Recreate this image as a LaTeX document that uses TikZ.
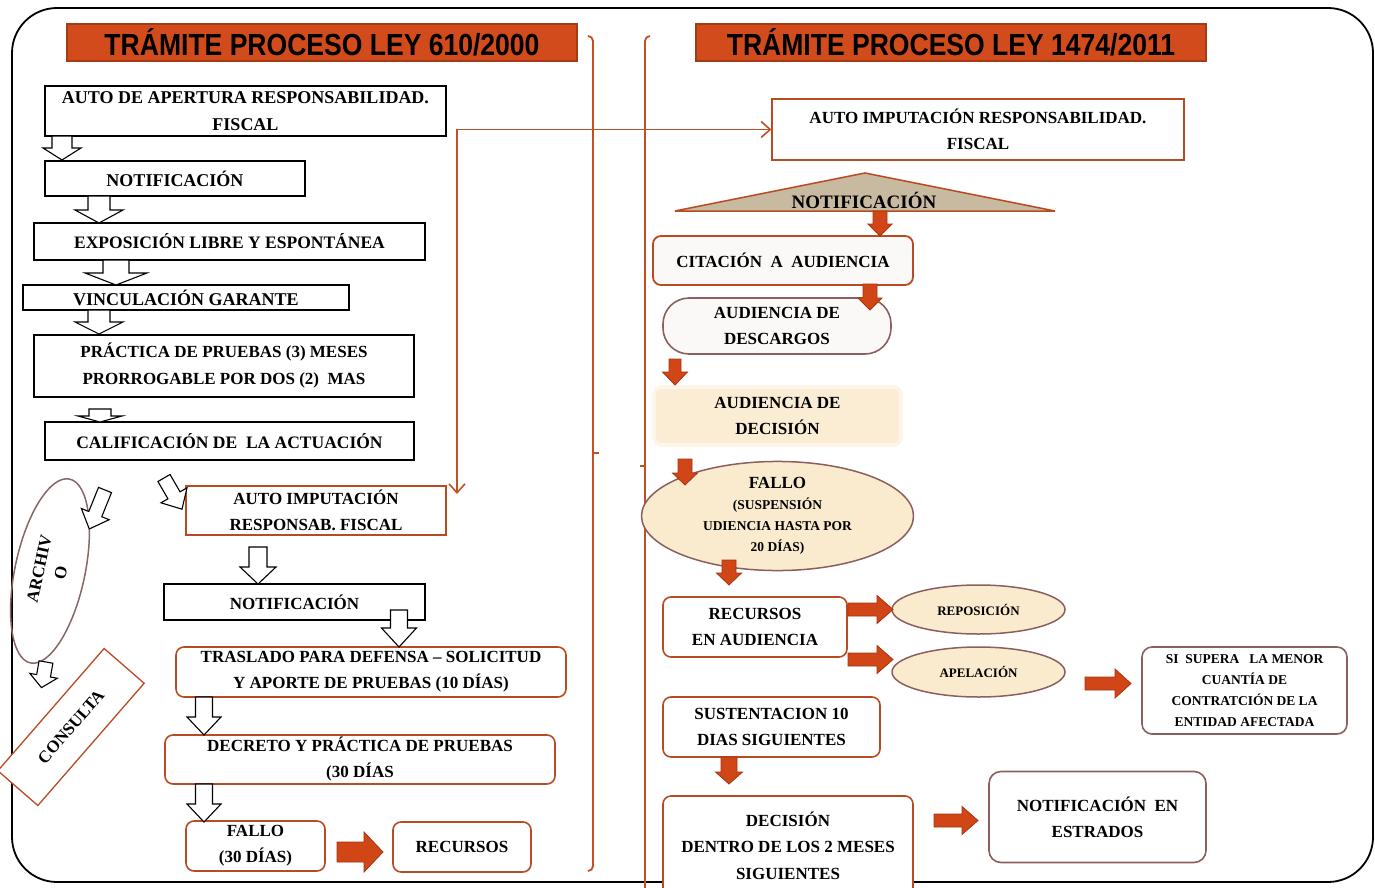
\documentclass[tikz,border=0pt]{standalone}
\usepackage{fontspec}
\setmainfont{Liberation Serif}
\newfontfamily\titlefont[FakeStretch=0.87]{Liberation Sans}
\usetikzlibrary{arrows.meta,shapes.geometric}
\definecolor{ttl}{RGB}{210,75,28}
\definecolor{ttlb}{RGB}{165,58,20}
\definecolor{orng}{RGB}{208,70,22}
\definecolor{odark}{RGB}{165,52,14}
\definecolor{brn}{RGB}{185,75,35}
\definecolor{brc}{RGB}{195,80,35}
\definecolor{mauve}{RGB}{140,95,95}
\definecolor{cream}{RGB}{250,234,206}
\definecolor{cream2}{RGB}{251,236,212}
\definecolor{cream3}{RGB}{253,245,234}
\definecolor{tan}{RGB}{200,186,160}
\definecolor{offw}{RGB}{251,249,247}
\newcommand{\barr}[8]{\draw[#1,shift={(#2,#3)},rotate=#4] (0,-#6/2) -- (#5-#8,-#6/2) -- (#5-#8,-#7/2) -- (#5,0) -- (#5-#8,#7/2) -- (#5-#8,#6/2) -- (0,#6/2) -- cycle;}
\tikzset{
 lbox/.style={draw=black, line width=1.3pt, fill=white, inner sep=0pt, align=center, font=\bfseries\fontsize{18}{27}\selectfont},
 lboxs/.style={lbox, font=\bfseries\fontsize{17}{26}\selectfont},
 bbox/.style={draw=brn, line width=1.3pt, fill=white, inner sep=0pt, align=center, font=\bfseries\fontsize{17}{26}\selectfont},
 rbox/.style={bbox, rounded corners=8pt, line width=1.6pt},
 mbox/.style={rbox, draw=mauve},
 hollow/.style={draw=black, line width=1.1pt, fill=white, line join=miter},
 obarr/.style={draw=odark, line width=0.8pt, fill=orng, line join=miter},
 ttlbox/.style={draw=ttlb, line width=1.2pt, fill=ttl, inner sep=0pt, minimum width=510pt, minimum height=37pt, font=\titlefont\bfseries\fontsize{30.5}{34}\selectfont},
 brace/.style={draw=brc, line width=1.8pt},
 conn/.style={draw=brc, line width=1.6pt},
 ell/.style={ellipse, draw=mauve, line width=1.5pt, fill=cream, inner sep=0pt, align=center},
}
\begin{document}
\begin{tikzpicture}[x=1pt,y=-1pt]
\useasboundingbox (0,0) rectangle (1375,888);
% frame
\draw[line width=1.8pt, rounded corners=45pt] (12,8) rectangle (1373,882);
% titles
\node[ttlbox] (t1) at (322,42.5) {TRÁMITE PROCESO LEY 610/2000};
\node[ttlbox] (t2) at (951,42.5) {TRÁMITE PROCESO LEY 1474/2011};
% braces
\draw[brace] (588,36) to[out=0,in=90] (593,41) -- (593,866) to[out=-90,in=0] (588,871);
\draw[brace] (593,453) -- (599,453);
\draw[brace] (650,36) to[out=180,in=90] (645,41) -- (645,890);
\draw[brace] (645,466) -- (640,466);
% left column
\node[lbox, minimum width=401pt, minimum height=50pt] (l1) at (245.5,111) {AUTO DE APERTURA RESPONSABILIDAD.\\FISCAL};
\node[lbox, minimum width=260pt, minimum height=35pt] (l2) at (175,178.5) {NOTIFICACIÓN};
\node[lbox, minimum width=391pt, minimum height=37pt, font=\bfseries\fontsize{17.5}{27}\selectfont] (l3) at (229.5,241.5) {EXPOSICIÓN LIBRE Y ESPONTÁNEA};
\node[lbox, minimum width=326pt, minimum height=25pt] (l4) at (186,297.5) {VINCULACIÓN GARANTE};
\node[lbox, minimum width=380pt, minimum height=62pt, font=\bfseries\fontsize{17}{27}\selectfont] (l5) at (224,366) {PRÁCTICA DE PRUEBAS (3)\ MESES\\PRORROGABLE POR DOS (2)\ \ MAS};
\node[lbox, minimum width=369pt, minimum height=38pt, font=\bfseries\fontsize{17.5}{27}\selectfont] (l6) at (229.5,441) {CALIFICACIÓN\ DE\ \ LA\ ACTUACIÓN};
\node[bbox, minimum width=260pt, minimum height=49pt] (l7) at (316,510.5) {AUTO IMPUTACIÓN\\RESPONSAB. FISCAL};
\node[lboxs, minimum width=261pt, minimum height=36pt] (l8) at (294.5,602) {NOTIFICACIÓN};
\node[rbox, minimum width=390pt, minimum height=50pt] (l9) at (371,672) {TRASLADO PARA DEFENSA – SOLICITUD\\Y APORTE DE PRUEBAS (10 DÍAS)};
\node[rbox, minimum width=390pt, minimum height=49pt] (l10) at (360,759.5) {DECRETO Y PRÁCTICA DE PRUEBAS\\(30 DÍAS};
\node[rbox, minimum width=139pt, minimum height=50pt] (l11) at (255.5,846) {FALLO\\(30 DÍAS)};
\node[rbox, minimum width=138pt, minimum height=50pt] (l12) at (462,847) {RECURSOS};
% archivo / consulta
\node[ellipse, draw=mauve!80!gray, line width=1.5pt, rotate=78, minimum width=188pt, minimum height=70pt, inner sep=0pt, align=center, font=\bfseries\fontsize{17}{22}\selectfont] (arch) at (50,571) {ARCHIV\\O};
\node[draw=brn, line width=1.3pt, fill=white, rotate=49, minimum width=162pt, minimum height=53pt, inner sep=0pt, font=\bfseries\fontsize{17}{22}\selectfont] (cons) at (71,727) {CONSULTA};
% hollow arrows
\barr{hollow}{62}{136}{-90}{24}{20}{38}{12}
\barr{hollow}{99}{196}{-90}{27}{22}{48}{13}
\barr{hollow}{116}{260}{-90}{25}{26}{62}{12}
\barr{hollow}{99}{310}{-90}{24}{22}{48}{12}
\barr{hollow}{100}{409}{-90}{13}{22}{44}{6}
\barr{hollow}{105}{490}{-112}{42}{14}{30}{16}
\barr{hollow}{164}{478}{-60}{36}{14}{30}{16}
\barr{hollow}{46}{662}{-100}{26}{14}{28}{12}
\barr{hollow}{258}{547}{-90}{37}{18}{36}{17}
\barr{hollow}{399}{610}{-90}{37}{17}{35}{19}
\barr{hollow}{204}{697}{-90}{38}{17}{34}{18}
\barr{hollow}{204}{784}{-90}{38}{17}{34}{18}
\barr{obarr}{337}{852}{0}{46}{20}{40}{19}
% right column
\node[bbox, minimum width=412pt, minimum height=61pt] (r1) at (978,129.5) {AUTO IMPUTACIÓN RESPONSABILIDAD.\\FISCAL};
\coordinate (c1) at (457,494);
\draw[conn, {Straight Barb[length=9pt,width=16pt]}-{Straight Barb[length=9pt,width=16pt]}] (c1) |- (r1.west);
\draw[draw=brn, line width=1.5pt, fill=tan] (675,211) -- (865,173) -- (1055,211) -- cycle;
\node[font=\bfseries\fontsize{19}{22}\selectfont, inner sep=0pt] (rn) at (864,200) {NOTIFICACIÓN};
\node[rbox, fill=offw, line width=1.8pt, minimum width=260pt, minimum height=49pt] (r2) at (783,260.5) {CITACIÓN\ \ A\ \ AUDIENCIA};
\node[mbox, fill=offw, rounded corners=26pt, minimum width=228pt, minimum height=56pt] (r3) at (777,326) {AUDIENCIA DE\\DESCARGOS};
\node[rbox, fill=cream2, draw=cream3, line width=4pt, minimum width=247pt, minimum height=58pt] (r4) at (777.5,416) {AUDIENCIA DE\\DECISIÓN};
\node[ell, minimum width=272pt, minimum height=86pt, font=\bfseries\fontsize{13.5}{21}\selectfont] (r5) at (777.5,516) {{\fontsize{17}{21}\selectfont FALLO}\\(SUSPENSIÓN\\UDIENCIA HASTA POR\\20 DÍAS)};
\node[rbox, minimum width=184pt, minimum height=60pt] (r6) at (755,627) {RECURSOS\\EN AUDIENCIA};
\node[ell, minimum width=173pt, minimum height=49pt, font=\bfseries\fontsize{13}{16}\selectfont] (r7) at (978.5,609.5) {REPOSICIÓN};
\node[ell, minimum width=173pt, minimum height=50pt, font=\bfseries\fontsize{13}{16}\selectfont] (r8) at (978.5,672) {APELACIÓN};
\node[mbox, rounded corners=10pt, minimum width=205pt, minimum height=87pt, font=\bfseries\fontsize{13.5}{21}\selectfont] (r9) at (1244.5,690.5) {SI\ \ SUPERA\ \ \ LA MENOR\\CUANTÍA DE\\CONTRATCIÓN DE LA\\ENTIDAD AFECTADA};
\node[rbox, minimum width=217pt, minimum height=60pt] (r10) at (771.5,727) {SUSTENTACION 10\\DIAS SIGUIENTES};
\node[rbox, minimum width=250pt, minimum height=104pt] (r11) at (788,848) {};
\node[font=\bfseries\fontsize{17}{26.5}\selectfont, align=center, inner sep=0pt] (r11t) at (788,845.5) {DECISIÓN\\DENTRO DE LOS 2 MESES\\SIGUIENTES};
\node[mbox, rounded corners=12pt, minimum width=217pt, minimum height=91pt] (r12) at (1097.5,817) {NOTIFICACIÓN\ \ EN\\ESTRADOS};
% orange arrows
\barr{obarr}{880}{211}{-90}{25}{14}{24}{12}
\barr{obarr}{870}{284}{-90}{26}{14}{24}{12}
\barr{obarr}{675}{359}{-90}{26}{12}{25}{13}
\barr{obarr}{685}{459}{-90}{26}{14}{25}{12}
\barr{obarr}{729}{560}{-90}{25}{14}{25}{12}
\barr{obarr}{848}{609.5}{0}{45}{13}{28}{16}
\barr{obarr}{848}{659.5}{0}{45}{13}{28}{16}
\barr{obarr}{1085}{683.5}{0}{46}{13}{29}{16}
\barr{obarr}{729}{757}{-90}{27}{16}{27}{12}
\barr{obarr}{934}{820.5}{0}{44}{13}{28}{16}
\end{tikzpicture}
\end{document}
